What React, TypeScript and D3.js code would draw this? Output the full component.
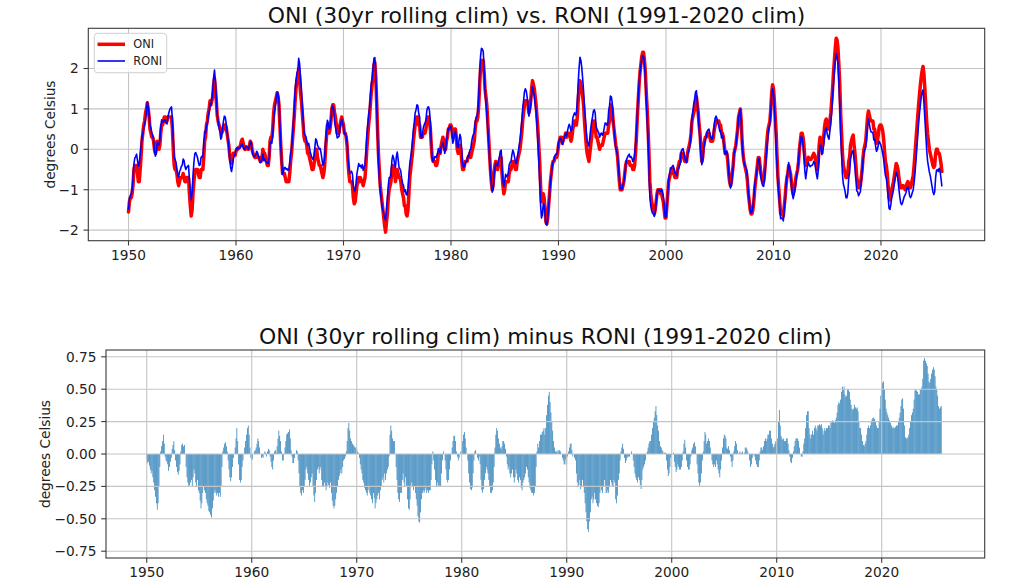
import React, { useEffect, useRef } from 'react';
import * as d3 from 'd3';

// Monthly series (3-month running seasons, DJF = Jan) starting Jan 1950
const startYear = 1950;

// ONI, 30yr rolling climatology (red line)
const oni: number[] = [
  -1.55, -1.3, -1.2, -1.2, -1.1, -0.9, -0.5, -0.4, -0.4, -0.4, -0.6, -0.8, // 1950
  -0.8, -0.5, -0.2, 0.2, 0.4, 0.6, 0.7, 0.9, 1.0, 1.15, 1.0, 0.8, // 1951
  0.5, 0.4, 0.3, 0.3, 0.2, 0.0, -0.1, 0.0, 0.2, 0.1, 0.0, 0.1, // 1952
  0.4, 0.6, 0.6, 0.7, 0.8, 0.8, 0.7, 0.7, 0.8, 0.8, 0.8, 0.8, // 1953
  0.8, 0.5, 0.0, -0.4, -0.5, -0.5, -0.6, -0.8, -0.9, -0.8, -0.7, -0.7, // 1954
  -0.7, -0.6, -0.7, -0.8, -0.8, -0.7, -0.7, -0.7, -1.1, -1.4, -1.65, -1.5, // 1955
  -1.1, -0.8, -0.6, -0.5, -0.5, -0.5, -0.6, -0.7, -0.7, -0.5, -0.5, -0.5, // 1956
  -0.2, 0.2, 0.3, 0.6, 0.7, 0.9, 1.0, 1.2, 1.1, 1.2, 1.3, 1.6, // 1957
  1.75, 1.5, 1.2, 0.85, 0.7, 0.6, 0.55, 0.45, 0.4, 0.45, 0.5, 0.6, // 1958
  0.6, 0.55, 0.4, 0.25, 0.1, -0.15, -0.3, -0.35, -0.2, -0.1, -0.1, -0.15, // 1959
  -0.05, 0.0, 0.0, 0.05, 0.05, 0.1, 0.2, 0.25, 0.15, 0.05, 0.0, 0.05, // 1960
  0.05, 0.0, 0.0, 0.1, 0.2, 0.15, 0.0, -0.1, -0.15, -0.2, -0.2, -0.15, // 1961
  -0.2, -0.2, -0.2, -0.3, -0.3, -0.2, 0.0, -0.1, -0.1, -0.2, -0.3, -0.4, // 1962
  -0.4, -0.2, 0.2, 0.3, 0.3, 0.5, 0.9, 1.1, 1.2, 1.3, 1.4, 1.3, // 1963
  1.1, 0.6, 0.1, -0.3, -0.6, -0.6, -0.6, -0.7, -0.8, -0.8, -0.8, -0.8, // 1964
  -0.6, -0.3, -0.1, 0.2, 0.5, 0.8, 1.2, 1.5, 1.7, 1.8, 2.0, 1.8, // 1965
  1.4, 1.2, 0.9, 0.6, 0.3, 0.2, 0.2, 0.1, -0.1, -0.1, -0.2, -0.3, // 1966
  -0.4, -0.5, -0.5, -0.4, -0.2, 0.0, 0.0, -0.2, -0.3, -0.4, -0.4, -0.5, // 1967
  -0.6, -0.7, -0.6, -0.4, 0.0, 0.3, 0.6, 0.5, 0.4, 0.5, 0.7, 1.0, // 1968
  1.1, 1.1, 0.9, 0.8, 0.6, 0.4, 0.4, 0.4, 0.6, 0.7, 0.8, 0.7, // 1969
  0.6, 0.4, 0.4, 0.3, 0.1, -0.3, -0.6, -0.8, -0.8, -0.8, -0.9, -1.2, // 1970
  -1.35, -1.3, -1.1, -0.9, -0.8, -0.7, -0.8, -0.7, -0.8, -0.8, -0.9, -0.8, // 1971
  -0.7, -0.4, 0.0, 0.3, 0.6, 0.8, 1.1, 1.4, 1.6, 1.8, 2.1, 2.15, // 1972
  1.8, 1.2, 0.5, -0.1, -0.5, -0.9, -1.1, -1.3, -1.5, -1.7, -1.9, -2.05, // 1973
  -1.8, -1.6, -1.2, -1.0, -0.9, -0.8, -0.5, -0.4, -0.4, -0.6, -0.8, -0.6, // 1974
  -0.5, -0.6, -0.7, -0.7, -0.8, -1.0, -1.1, -1.2, -1.4, -1.4, -1.6, -1.65, // 1975
  -1.5, -1.1, -0.7, -0.5, -0.3, -0.1, 0.2, 0.4, 0.6, 0.7, 0.8, 0.8, // 1976
  0.6, 0.6, 0.3, 0.3, 0.3, 0.4, 0.4, 0.4, 0.5, 0.7, 0.8, 0.8, // 1977
  0.7, 0.5, 0.1, -0.2, -0.3, -0.3, -0.3, -0.4, -0.4, -0.3, -0.1, -0.1, // 1978
  -0.1, 0.1, 0.2, 0.3, 0.2, 0.0, 0.0, 0.2, 0.3, 0.5, 0.5, 0.6, // 1979
  0.6, 0.5, 0.3, 0.4, 0.5, 0.5, 0.3, 0.0, -0.1, 0.0, 0.1, 0.0, // 1980
  -0.3, -0.5, -0.5, -0.4, -0.3, -0.3, -0.3, -0.2, -0.2, -0.1, -0.2, -0.1, // 1981
  0.0, 0.1, 0.2, 0.5, 0.7, 0.7, 0.8, 1.1, 1.6, 2.0, 2.2, 2.2, // 1982
  2.2, 1.9, 1.5, 1.3, 1.1, 0.7, 0.3, -0.1, -0.5, -0.8, -1.0, -0.9, // 1983
  -0.6, -0.4, -0.3, -0.4, -0.5, -0.4, -0.3, -0.2, -0.2, -0.6, -0.9, -1.1, // 1984
  -1.0, -0.8, -0.8, -0.8, -0.8, -0.6, -0.5, -0.5, -0.4, -0.3, -0.3, -0.4, // 1985
  -0.5, -0.5, -0.3, -0.2, -0.1, 0.0, 0.2, 0.4, 0.7, 0.9, 1.1, 1.2, // 1986
  1.2, 1.2, 1.1, 0.9, 1.0, 1.2, 1.5, 1.7, 1.6, 1.5, 1.3, 1.1, // 1987
  0.8, 0.5, 0.1, -0.3, -0.9, -1.3, -1.3, -1.1, -1.2, -1.5, -1.8, -1.85, // 1988
  -1.7, -1.4, -1.1, -0.8, -0.6, -0.4, -0.3, -0.3, -0.2, -0.2, -0.2, -0.1, // 1989
  0.1, 0.2, 0.3, 0.3, 0.2, 0.2, 0.3, 0.3, 0.4, 0.3, 0.4, 0.4, // 1990
  0.4, 0.3, 0.2, 0.3, 0.5, 0.6, 0.7, 0.6, 0.6, 0.8, 1.2, 1.5, // 1991
  1.7, 1.6, 1.5, 1.3, 1.1, 0.7, 0.4, 0.1, -0.1, -0.2, -0.3, -0.1, // 1992
  0.1, 0.3, 0.5, 0.7, 0.7, 0.6, 0.3, 0.3, 0.2, 0.1, 0.0, 0.1, // 1993
  0.1, 0.1, 0.2, 0.3, 0.4, 0.4, 0.4, 0.4, 0.6, 0.7, 1.0, 1.1, // 1994
  1.0, 0.7, 0.5, 0.3, 0.1, 0.0, -0.2, -0.5, -0.8, -1.0, -1.0, -1.0, // 1995
  -0.9, -0.8, -0.6, -0.4, -0.3, -0.3, -0.3, -0.3, -0.4, -0.4, -0.4, -0.5, // 1996
  -0.5, -0.4, -0.1, 0.3, 0.8, 1.2, 1.6, 1.9, 2.1, 2.3, 2.4, 2.4, // 1997
  2.2, 1.9, 1.4, 1.0, 0.5, -0.1, -0.8, -1.1, -1.3, -1.4, -1.5, -1.6, // 1998
  -1.5, -1.3, -1.1, -1.0, -1.0, -1.0, -1.1, -1.1, -1.2, -1.3, -1.5, -1.7, // 1999
  -1.7, -1.4, -1.1, -0.8, -0.7, -0.6, -0.6, -0.5, -0.5, -0.6, -0.7, -0.7, // 2000
  -0.7, -0.5, -0.4, -0.3, -0.3, -0.1, -0.1, -0.1, -0.2, -0.3, -0.3, -0.3, // 2001
  -0.1, 0.0, 0.1, 0.2, 0.4, 0.7, 0.8, 0.9, 1.0, 1.2, 1.3, 1.1, // 2002
  0.9, 0.6, 0.4, 0.0, -0.3, -0.2, 0.1, 0.2, 0.3, 0.3, 0.4, 0.4, // 2003
  0.4, 0.3, 0.2, 0.2, 0.2, 0.3, 0.5, 0.6, 0.7, 0.7, 0.7, 0.7, // 2004
  0.6, 0.6, 0.4, 0.4, 0.3, 0.1, -0.1, -0.1, -0.1, -0.3, -0.6, -0.8, // 2005
  -0.9, -0.8, -0.6, -0.4, -0.1, 0.0, 0.1, 0.3, 0.5, 0.8, 0.9, 1.0, // 2006
  0.7, 0.2, -0.1, -0.3, -0.4, -0.5, -0.6, -0.8, -1.1, -1.3, -1.5, -1.6, // 2007
  -1.6, -1.5, -1.3, -1.0, -0.8, -0.6, -0.4, -0.2, -0.2, -0.4, -0.6, -0.7, // 2008
  -0.8, -0.8, -0.6, -0.3, 0.0, 0.3, 0.5, 0.6, 0.7, 1.0, 1.4, 1.6, // 2009
  1.5, 1.2, 0.8, 0.4, -0.2, -0.7, -1.0, -1.3, -1.6, -1.6, -1.6, -1.65, // 2010
  -1.4, -1.2, -0.9, -0.7, -0.6, -0.4, -0.5, -0.6, -0.8, -1.0, -1.1, -1.0, // 2011
  -0.9, -0.7, -0.6, -0.5, -0.3, 0.0, 0.2, 0.4, 0.4, 0.3, 0.1, -0.2, // 2012
  -0.4, -0.35, -0.25, -0.2, -0.25, -0.25, -0.25, -0.2, -0.15, -0.1, -0.15, -0.25, // 2013
  -0.4, -0.5, -0.3, 0.1, 0.3, 0.25, 0.05, 0.1, 0.3, 0.55, 0.7, 0.75, // 2014
  0.6, 0.5, 0.5, 0.7, 0.9, 1.2, 1.5, 1.9, 2.2, 2.5, 2.75, 2.7, // 2015
  2.5, 2.1, 1.6, 0.9, 0.4, -0.1, -0.4, -0.5, -0.6, -0.7, -0.7, -0.6, // 2016
  -0.3, -0.2, 0.1, 0.2, 0.3, 0.35, 0.1, -0.1, -0.4, -0.7, -0.8, -0.95, // 2017
  -0.9, -0.9, -0.7, -0.5, -0.2, 0.0, 0.1, 0.2, 0.5, 0.8, 0.95, 0.85, // 2018
  0.75, 0.7, 0.7, 0.7, 0.5, 0.5, 0.3, 0.15, 0.2, 0.35, 0.55, 0.6, // 2019
  0.6, 0.55, 0.45, 0.25, -0.05, -0.3, -0.4, -0.6, -0.9, -1.2, -1.25, -1.15, // 2020
  -1.0, -0.9, -0.8, -0.65, -0.5, -0.35, -0.4, -0.5, -0.7, -0.85, -0.95, -0.95, // 2021
  -0.9, -0.9, -0.95, -1.0, -0.95, -0.85, -0.8, -0.85, -0.95, -0.95, -0.85, -0.75, // 2022
  -0.65, -0.4, -0.1, 0.2, 0.5, 0.8, 1.1, 1.35, 1.6, 1.8, 1.95, 2.05, // 2023
  1.85, 1.5, 1.1, 0.7, 0.4, 0.2, 0.0, -0.1, -0.2, -0.3, -0.4, -0.45, // 2024
  -0.4, -0.1, 0.0, 0.0, -0.1, -0.1, -0.2, -0.35, -0.55, // 2025
];

// ONI minus RONI (bars of the lower panel)
const oniMinusRoni: number[] = [
  -0.05, -0.07, -0.06, -0.09, -0.12, -0.15, -0.13, -0.18, -0.22, -0.28, -0.33, -0.38, // 1950
  -0.43, -0.38, -0.25, -0.1, 0.02, 0.06, 0.1, 0.15, 0.08, -0.02, -0.05, -0.06, // 1951
  -0.08, -0.13, -0.1, -0.06, -0.03, 0.04, 0.07, 0.1, 0.03, -0.05, -0.1, -0.14, // 1952
  -0.16, -0.13, -0.08, 0.02, 0.07, 0.08, 0.06, 0.07, 0.0, -0.1, -0.18, -0.22, // 1953
  -0.25, -0.24, -0.22, -0.2, -0.25, -0.18, -0.12, -0.15, -0.22, -0.25, -0.2, -0.28, // 1954
  -0.3, -0.36, -0.42, -0.38, -0.3, -0.25, -0.28, -0.3, -0.35, -0.38, -0.4, -0.44, // 1955
  -0.45, -0.47, -0.49, -0.42, -0.36, -0.3, -0.28, -0.3, -0.32, -0.3, -0.33, -0.3, // 1956
  -0.33, -0.25, -0.1, 0.02, 0.05, 0.08, 0.09, 0.06, 0.02, -0.05, -0.12, -0.18, // 1957
  -0.21, -0.18, -0.1, -0.03, 0.0, 0.05, 0.12, 0.2, 0.1, -0.08, -0.2, -0.22, // 1958
  -0.2, -0.1, -0.05, 0.0, 0.05, 0.1, 0.15, 0.2, 0.22, 0.15, 0.05, -0.03, // 1959
  -0.05, -0.04, 0.0, 0.02, 0.03, 0.05, 0.08, 0.12, 0.1, 0.05, 0.0, -0.03, // 1960
  -0.02, -0.03, 0.0, 0.02, 0.01, -0.02, 0.02, 0.04, 0.03, -0.02, -0.06, -0.1, // 1961
  -0.12, -0.05, 0.02, 0.03, 0.01, 0.06, 0.12, 0.18, 0.14, 0.1, 0.02, -0.05, // 1962
  -0.05, 0.0, 0.05, 0.1, 0.15, 0.16, 0.17, 0.19, 0.12, 0.03, -0.02, -0.07, // 1963
  -0.07, -0.03, 0.0, 0.03, 0.02, -0.05, -0.15, -0.25, -0.3, -0.32, -0.28, -0.3, // 1964
  -0.25, -0.2, -0.12, -0.1, -0.15, -0.2, -0.25, -0.22, -0.18, -0.15, -0.25, -0.32, // 1965
  -0.37, -0.3, -0.2, -0.12, -0.1, -0.15, -0.12, -0.1, -0.2, -0.25, -0.25, -0.22, // 1966
  -0.25, -0.28, -0.25, -0.22, -0.24, -0.26, -0.22, -0.3, -0.36, -0.4, -0.42, -0.4, // 1967
  -0.35, -0.3, -0.25, -0.2, -0.17, -0.15, -0.12, -0.15, -0.1, -0.05, -0.04, -0.02, // 1968
  0.02, 0.1, 0.2, 0.24, 0.18, 0.12, 0.1, 0.08, 0.07, 0.06, 0.05, 0.05, // 1969
  0.04, 0.02, 0.01, -0.03, -0.08, -0.12, -0.15, -0.2, -0.22, -0.26, -0.28, -0.3, // 1970
  -0.32, -0.28, -0.25, -0.3, -0.32, -0.35, -0.38, -0.3, -0.34, -0.42, -0.38, -0.35, // 1971
  -0.32, -0.3, -0.35, -0.28, -0.25, -0.2, -0.18, -0.22, -0.15, -0.2, -0.15, -0.12, // 1972
  -0.1, -0.02, 0.15, 0.22, 0.18, 0.12, 0.1, 0.1, 0.0, -0.1, -0.2, -0.3, // 1973
  -0.35, -0.37, -0.3, -0.3, -0.2, -0.15, -0.22, -0.25, -0.18, -0.25, -0.35, -0.42, // 1974
  -0.43, -0.35, -0.25, -0.22, -0.25, -0.28, -0.25, -0.3, -0.35, -0.4, -0.48, -0.52, // 1975
  -0.53, -0.45, -0.35, -0.3, -0.28, -0.3, -0.28, -0.26, -0.3, -0.28, -0.3, -0.28, // 1976
  -0.28, -0.2, -0.08, 0.02, -0.05, -0.12, -0.2, -0.25, -0.22, -0.25, -0.24, -0.25, // 1977
  -0.25, -0.15, -0.05, 0.02, 0.0, -0.05, -0.12, -0.2, -0.22, -0.2, -0.12, -0.05, // 1978
  0.0, 0.05, 0.1, 0.14, 0.14, 0.1, 0.02, -0.02, -0.05, -0.03, 0.0, 0.02, // 1979
  0.05, 0.1, 0.15, 0.17, 0.12, 0.05, 0.0, -0.05, -0.15, -0.22, -0.27, -0.28, // 1980
  -0.26, -0.15, -0.05, 0.02, 0.03, 0.0, -0.03, -0.05, -0.02, -0.08, -0.2, -0.28, // 1981
  -0.3, -0.27, -0.2, -0.15, -0.1, -0.12, -0.15, -0.2, -0.25, -0.3, -0.3, -0.28, // 1982
  -0.22, -0.1, 0.05, 0.15, 0.2, 0.18, 0.12, 0.08, 0.05, 0.04, 0.06, 0.1, // 1983
  0.1, 0.08, 0.04, -0.02, -0.08, -0.12, -0.1, -0.15, -0.18, -0.15, -0.12, -0.18, // 1984
  -0.22, -0.18, -0.12, -0.15, -0.2, -0.22, -0.18, -0.2, -0.26, -0.28, -0.22, -0.2, // 1985
  -0.18, -0.15, -0.1, -0.12, -0.18, -0.22, -0.26, -0.28, -0.3, -0.3, -0.32, -0.3, // 1986
  -0.25, -0.1, 0.02, 0.08, 0.05, 0.1, 0.15, 0.15, 0.17, 0.18, 0.2, 0.15, // 1987
  0.2, 0.3, 0.38, 0.45, 0.48, 0.4, 0.32, 0.25, 0.18, 0.1, 0.05, 0.02, // 1988
  0.02, 0.01, 0.03, 0.02, 0.03, 0.02, 0.0, -0.03, -0.05, -0.08, -0.08, -0.04, // 1989
  -0.08, -0.02, 0.02, 0.05, 0.08, 0.08, 0.03, -0.02, 0.0, -0.03, -0.05, -0.15, // 1990
  -0.22, -0.25, -0.24, -0.2, -0.27, -0.25, -0.2, -0.25, -0.3, -0.38, -0.45, -0.52, // 1991
  -0.58, -0.6, -0.52, -0.45, -0.35, -0.33, -0.38, -0.35, -0.3, -0.35, -0.38, -0.4, // 1992
  -0.41, -0.38, -0.3, -0.25, -0.28, -0.3, -0.25, -0.2, -0.25, -0.3, -0.3, -0.28, // 1993
  -0.3, -0.25, -0.2, -0.22, -0.25, -0.25, -0.2, -0.22, -0.35, -0.38, -0.32, -0.2, // 1994
  -0.15, -0.05, 0.02, 0.05, 0.08, 0.04, -0.03, -0.07, -0.05, -0.03, -0.02, -0.02, // 1995
  -0.02, 0.0, 0.02, 0.0, -0.05, -0.1, -0.15, -0.18, -0.2, -0.22, -0.18, -0.2, // 1996
  -0.24, -0.27, -0.2, -0.12, -0.1, -0.08, -0.05, 0.0, 0.02, 0.05, 0.08, 0.1, // 1997
  0.1, 0.15, 0.2, 0.25, 0.28, 0.33, 0.37, 0.3, 0.22, 0.18, 0.1, 0.06, // 1998
  0.05, 0.03, 0.02, 0.0, 0.01, 0.01, -0.05, -0.12, -0.17, -0.15, -0.1, -0.03, // 1999
  -0.02, 0.0, 0.01, -0.06, -0.1, -0.14, -0.12, -0.08, -0.1, -0.12, -0.12, -0.1, // 2000
  -0.05, 0.02, 0.08, 0.11, 0.05, -0.05, -0.1, -0.12, -0.12, -0.08, -0.02, 0.03, // 2001
  0.05, 0.08, 0.09, 0.06, 0.0, -0.08, -0.15, -0.22, -0.25, -0.22, -0.15, -0.05, // 2002
  0.02, 0.1, 0.17, 0.15, 0.08, 0.1, 0.12, 0.1, 0.05, 0.0, -0.05, -0.08, // 2003
  -0.1, -0.08, -0.1, -0.05, -0.08, -0.12, -0.15, -0.18, -0.12, -0.05, 0.05, 0.12, // 2004
  0.15, 0.14, 0.12, 0.05, 0.04, 0.06, 0.03, -0.02, -0.06, -0.1, -0.05, 0.02, // 2005
  0.06, 0.1, 0.08, 0.03, 0.0, 0.01, 0.02, 0.0, 0.01, 0.02, 0.0, 0.01, // 2006
  0.05, 0.05, 0.04, 0.02, 0.0, -0.05, -0.1, -0.08, -0.03, -0.01, 0.0, -0.02, // 2007
  -0.05, -0.08, -0.1, -0.1, -0.05, 0.02, 0.05, 0.05, 0.03, 0.06, 0.1, 0.12, // 2008
  0.1, 0.12, 0.15, 0.15, 0.18, 0.18, 0.12, 0.08, 0.05, 0.06, 0.08, 0.1, // 2009
  0.1, 0.12, 0.25, 0.34, 0.22, 0.14, 0.12, 0.11, 0.12, 0.1, 0.1, 0.12, // 2010
  0.12, 0.08, 0.03, -0.02, -0.06, -0.07, -0.03, 0.02, 0.06, 0.1, 0.12, 0.12, // 2011
  0.12, 0.1, 0.05, 0.0, -0.02, -0.02, 0.02, 0.08, 0.12, 0.2, 0.3, 0.33, // 2012
  0.33, 0.2, 0.15, 0.12, 0.15, 0.18, 0.15, 0.2, 0.22, 0.2, 0.18, 0.22, // 2013
  0.22, 0.23, 0.22, 0.23, 0.2, 0.15, 0.18, 0.2, 0.18, 0.2, 0.2, 0.22, // 2014
  0.22, 0.2, 0.25, 0.24, 0.26, 0.25, 0.24, 0.26, 0.28, 0.32, 0.38, 0.4, // 2015
  0.39, 0.42, 0.48, 0.52, 0.5, 0.52, 0.46, 0.44, 0.45, 0.5, 0.5, 0.48, // 2016
  0.42, 0.38, 0.35, 0.34, 0.35, 0.38, 0.36, 0.35, 0.36, 0.33, 0.25, 0.2, // 2017
  0.2, 0.15, 0.1, 0.07, 0.06, 0.08, 0.1, 0.15, 0.2, 0.22, 0.2, 0.22, // 2018
  0.25, 0.27, 0.28, 0.28, 0.27, 0.25, 0.22, 0.2, 0.2, 0.25, 0.35, 0.45, // 2019
  0.5, 0.55, 0.56, 0.5, 0.42, 0.35, 0.32, 0.3, 0.28, 0.26, 0.24, 0.22, // 2020
  0.2, 0.21, 0.2, 0.2, 0.21, 0.22, 0.22, 0.25, 0.28, 0.32, 0.37, 0.42, // 2021
  0.43, 0.35, 0.22, 0.13, 0.12, 0.12, 0.13, 0.15, 0.2, 0.25, 0.3, 0.32, // 2022
  0.35, 0.42, 0.49, 0.5, 0.49, 0.48, 0.46, 0.46, 0.5, 0.5, 0.52, 0.58, // 2023
  0.72, 0.74, 0.72, 0.7, 0.68, 0.62, 0.56, 0.55, 0.58, 0.62, 0.65, 0.67, // 2024
  0.65, 0.6, 0.52, 0.5, 0.45, 0.37, 0.35, 0.36, 0.37, // 2025
];

const decadeTicks = [1950, 1960, 1970, 1980, 1990, 2000, 2010, 2020];
const topYTicks = [-2, -1, 0, 1, 2];
const bottomYTicks = [-0.75, -0.5, -0.25, 0, 0.25, 0.5, 0.75];

const W = 1024;
const H = 585;
const FONT = "'DejaVu Sans', sans-serif";

interface Box { left: number; right: number; top: number; bottom: number; }

const topBox: Box = { left: 88.3, right: 984.7, top: 28.3, bottom: 240.7 };
const botBox: Box = { left: 106, right: 984.7, top: 350, bottom: 558 };

const minus = (s: string) => s.replace('-', '\u2212');

const App: React.FC = () => {
  const svgRef = useRef<SVGSVGElement>(null);

  useEffect(() => {
    if (!svgRef.current) return;
    const svg = d3.select(svgRef.current);
    svg.selectAll('*').remove();

    const times = oni.map((_, i) => startYear + i / 12);
    const roni = oni.map((v, i) => v - oniMinusRoni[i]);

    const x1 = d3.scaleLinear().domain([1946.26, 2029.65]).range([topBox.left, topBox.right]);
    const y1 = d3.scaleLinear().domain([-2.262, 2.995]).range([topBox.bottom, topBox.top]);
    const x2 = d3.scaleLinear().domain([1946.12, 2029.81]).range([botBox.left, botBox.right]);
    const y2 = d3.scaleLinear().domain([-0.8025, 0.8025]).range([botBox.bottom, botBox.top]);

    svg.append('rect').attr('width', W).attr('height', H).attr('fill', '#fff');

    const grid = (
      box: Box,
      x: d3.ScaleLinear<number, number>,
      y: d3.ScaleLinear<number, number>,
      yTicks: number[],
    ) => {
      const g = svg.append('g').attr('stroke', '#c4c4c4').attr('stroke-width', 1.1);
      decadeTicks.forEach((t) => {
        g.append('line').attr('x1', x(t)).attr('x2', x(t)).attr('y1', box.top).attr('y2', box.bottom);
      });
      yTicks.forEach((v) => {
        g.append('line').attr('x1', box.left).attr('x2', box.right).attr('y1', y(v)).attr('y2', y(v));
      });
    };

    const frame = (
      box: Box,
      x: d3.ScaleLinear<number, number>,
      y: d3.ScaleLinear<number, number>,
      yTicks: number[],
      fmt: (v: number) => string,
      title: string,
      ylabelX: number,
    ) => {
      svg.append('rect')
        .attr('x', box.left).attr('y', box.top)
        .attr('width', box.right - box.left).attr('height', box.bottom - box.top)
        .attr('fill', 'none').attr('stroke', '#3a3a3a').attr('stroke-width', 1.1);

      const ticks = svg.append('g').attr('stroke', '#3a3a3a').attr('stroke-width', 1.1);
      decadeTicks.forEach((t) => {
        ticks.append('line').attr('x1', x(t)).attr('x2', x(t)).attr('y1', box.bottom).attr('y2', box.bottom + 4.8);
      });
      yTicks.forEach((v) => {
        ticks.append('line').attr('x1', box.left - 4.8).attr('x2', box.left).attr('y1', y(v)).attr('y2', y(v));
      });

      const labels = svg.append('g').attr('font-family', FONT).attr('font-size', 13.7).attr('fill', '#222');
      decadeTicks.forEach((t) => {
        labels.append('text').attr('x', x(t)).attr('y', box.bottom + 19)
          .attr('text-anchor', 'middle').text(String(t));
      });
      yTicks.forEach((v) => {
        labels.append('text').attr('x', box.left - 9.6).attr('y', y(v)).attr('dy', '0.36em')
          .attr('text-anchor', 'end').text(fmt(v));
      });

      svg.append('text')
        .attr('transform', `translate(${ylabelX},${(box.top + box.bottom) / 2}) rotate(-90)`)
        .attr('dy', '0.36em')
        .attr('text-anchor', 'middle')
        .attr('font-family', FONT).attr('font-size', 13.7).attr('fill', '#222')
        .text('degrees Celsius');

      svg.append('text')
        .attr('x', (box.left + box.right) / 2).attr('y', box.top - 5.8)
        .attr('text-anchor', 'middle')
        .attr('font-family', FONT).attr('font-size', 21.9).attr('fill', '#111')
        .text(title);
    };

    // ---- top panel: ONI vs RONI lines
    grid(topBox, x1, y1, topYTicks);

    const line = (vals: number[]) =>
      d3.line<number>()
        .x((_, i) => x1(times[i]))
        .y((d) => y1(d))(vals);

    svg.append('path').attr('d', line(oni) || '')
      .attr('fill', 'none').attr('stroke', '#ff0000').attr('stroke-width', 3.5)
      .attr('stroke-linejoin', 'round').attr('stroke-linecap', 'round');
    svg.append('path').attr('d', line(roni) || '')
      .attr('fill', 'none').attr('stroke', '#0000ff').attr('stroke-width', 1.6)
      .attr('stroke-linejoin', 'round');

    frame(topBox, x1, y1, topYTicks, (v) => minus(String(v)),
      'ONI (30yr rolling clim) vs. RONI (1991-2020 clim)', 50);

    // legend
    const lg = svg.append('g').attr('font-family', FONT).attr('font-size', 11.4).attr('fill', '#222');
    lg.append('rect').attr('x', 94.3).attr('y', 33.3).attr('width', 72.4).attr('height', 39.4)
      .attr('rx', 3).attr('fill', '#fff').attr('fill-opacity', 0.85)
      .attr('stroke', '#d0d0d0').attr('stroke-width', 1);
    lg.append('line').attr('x1', 97.5).attr('x2', 125).attr('y1', 44.3).attr('y2', 44.3)
      .attr('stroke', '#ff0000').attr('stroke-width', 3.5);
    lg.append('text').attr('x', 133.3).attr('y', 44.3).attr('dy', '0.36em').text('ONI');
    lg.append('line').attr('x1', 97.5).attr('x2', 125).attr('y1', 61).attr('y2', 61)
      .attr('stroke', '#0000ff').attr('stroke-width', 1.6);
    lg.append('text').attr('x', 133.3).attr('y', 61).attr('dy', '0.36em').text('RONI');

    // ---- bottom panel: ONI minus RONI bars
    const step = x2(startYear + 1 / 12) - x2(startYear);
    const bw = step * 0.8;
    svg.append('g').attr('fill', '#1f77b4')
      .selectAll('rect')
      .data(oniMinusRoni)
      .join('rect')
      .attr('x', (_, i) => x2(times[i]) - bw / 2)
      .attr('width', bw)
      .attr('y', (d) => Math.min(y2(d), y2(0)))
      .attr('height', (d) => Math.abs(y2(d) - y2(0)));

    grid(botBox, x2, y2, bottomYTicks);

    frame(botBox, x2, y2, bottomYTicks, (v) => minus(d3.format('.2f')(v)),
      'ONI (30yr rolling clim) minus RONI (1991-2020 clim)', 45.5);
  }, []);

  return (
    <svg
      ref={svgRef}
      width={W}
      height={H}
      style={{ position: 'absolute', left: 0, top: 0, display: 'block' }}
    />
  );
};

export default App;
